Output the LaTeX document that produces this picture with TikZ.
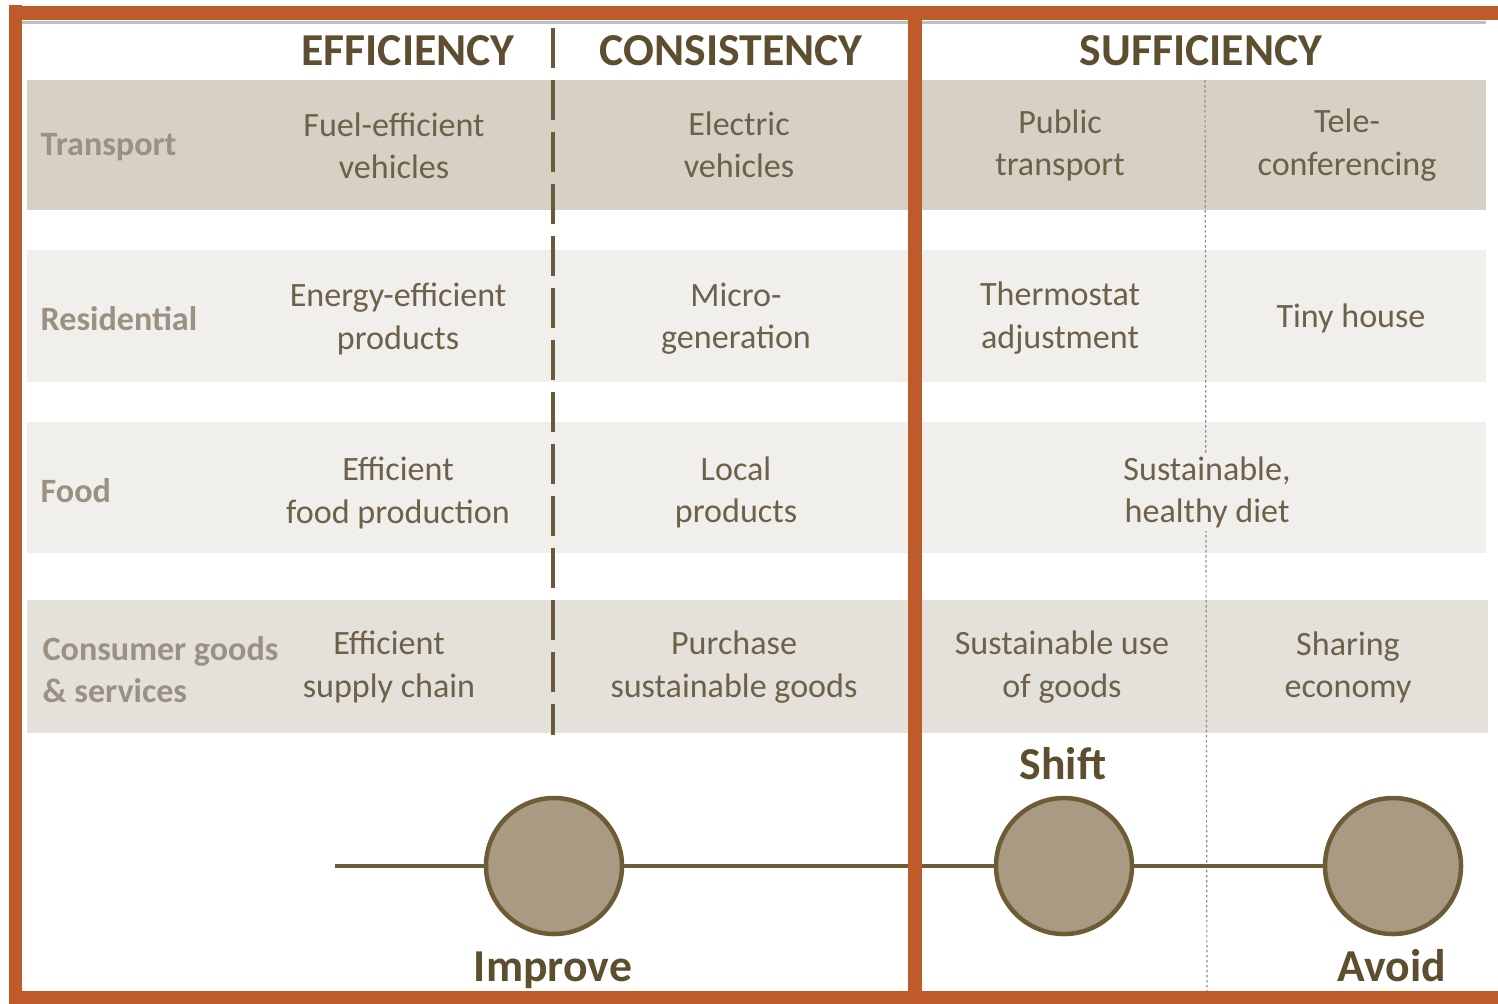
\documentclass[tikz,border=0pt]{standalone}
\usepackage{fontspec}
\setmainfont{Carlito}
\usepackage{xcolor}
\usetikzlibrary{positioning}
\definecolor{frame}{HTML}{BF5A2B}
\definecolor{headtext}{HTML}{5C4E2E}
\definecolor{celltext}{HTML}{6E6149}
\definecolor{labeltext}{HTML}{9A9183}
\definecolor{banddark}{HTML}{D6D0C5}
\definecolor{bandlight}{HTML}{F0EFEC}
\definecolor{bandmid}{HTML}{E4E1DB}
\definecolor{divider}{HTML}{6A5A3C}
\definecolor{timeline}{HTML}{6E5C36}
\definecolor{stage}{HTML}{A99B83}
\tikzset{
  HeadText/.style={text=headtext, font=\bfseries\fontsize{13}{15}\selectfont},
  CellText/.style={text=celltext, align=center, inner sep=1pt,
    font=\fontsize{9.7}{12}\selectfont},
  RowLabel/.style={text=labeltext, align=left, anchor=west, inner sep=0pt,
    font=\bfseries\fontsize{9.7}{12}\selectfont},
  StageDot/.style={circle, draw=timeline, line width=0.45mm, fill=stage,
    minimum size=13.6mm, inner sep=0pt},
  StageText/.style={text=headtext, anchor=base, font=\bfseries\fontsize{13}{15}\selectfont}
}

\begin{document}
\begin{tikzpicture}[x=0.1mm, y=-0.1mm, line cap=butt]
  \useasboundingbox (0,0) rectangle (1498,1003);
  \clip (0,0) rectangle (1498,1003);

  % row bands
  \fill[banddark]  (27,80)  rectangle (1486,210);
  \fill[bandlight] (27,250) rectangle (1486,382);
  \fill[bandlight] (27,422) rectangle (1486,553);
  \fill[bandmid]   (27,600) rectangle (1488,733);
  \draw[black!25, line width=0.3mm] (22,22) -- (1486,22);

  % dividers
  \coordinate (DashTop) at (553,28);
  \coordinate (DashBot) at (553,735);
  \coordinate (DotTop) at (1205,80);
  \coordinate (DotBot) at (1207,1003);
  \draw[divider, line width=0.4mm, dash pattern=on 4mm off 1.2mm] (DashTop) -- (DashBot);
  \draw[black!45, line width=0.12mm, dash pattern=on 0.25mm off 0.25mm] (DotTop) -- (DotBot);

  % headers
  \node[HeadText] (eff) at (408,51) {EFFICIENCY};
  \node[HeadText] (con) at (731,51) {CONSISTENCY};
  \node[HeadText] (suf) at (1201,51) {SUFFICIENCY};

  % sectors
  \node[RowLabel] (transport) at (40,147) {Transport};
  \node[RowLabel] (residential) at (40,319) {Residential};
  \node[RowLabel] (food) at (40,491) {Food};
  \node[RowLabel] (consumer) at (42,670) {Consumer goods\\\& services};

  % efficiency
  \node[CellText] at (394,146) {Fuel-efficient\\vehicles};
  \node[CellText] at (398,319) {Energy-efficient\\products};
  \node[CellText] at (398,493) {Efficient\\food production};
  \node[CellText] at (389,667) {Efficient\\supply chain};

  % consistency
  \node[CellText] at (739,145) {Electric\\vehicles};
  \node[CellText] at (736,319) {Micro-\\generation};
  \node[CellText] at (736,492) {Local\\products};
  \node[CellText] at (734,667) {Purchase\\sustainable goods};

  % sufficiency
  \node[CellText] at (1060,145) {Public\\transport};
  \node[CellText] at (1347,145) {Tele-\\conferencing};
  \node[CellText] at (1060,318) {Thermostat\\adjustment};
  \node[CellText] at (1351,318) {Tiny house};
  \node[CellText, fill=bandlight] at (1207,492) {Sustainable,\\healthy diet};
  \node[CellText] at (1062,667) {Sustainable use\\of goods};
  \node[CellText] at (1348,667) {Sharing\\economy};

  % timeline
  \coordinate (tstart) at (335,866);
  \node[StageDot] (improve) at (554,866) {};
  \node[StageDot] (shift) at (1064,866) {};
  \node[StageDot] (avoid) at (1393,866) {};
  \draw[timeline, line width=0.4mm] (tstart) -- (improve) -- (shift) -- (avoid);
  \node[StageText] at (553,981) {Improve};
  \node[StageText] at (1063,779) {Shift};
  \node[StageText] at (1392,981) {Avoid};

  % frame
  \draw[frame, line width=1.4mm] (15,12.5) -- (1520,12.5);
  \draw[frame, line width=1.3mm] (15,5) -- (15,997.5) -- (1520,997.5);
  \draw[frame, line width=1.4mm] (915,12.5) -- (915,997.5);
\end{tikzpicture}
\end{document}
